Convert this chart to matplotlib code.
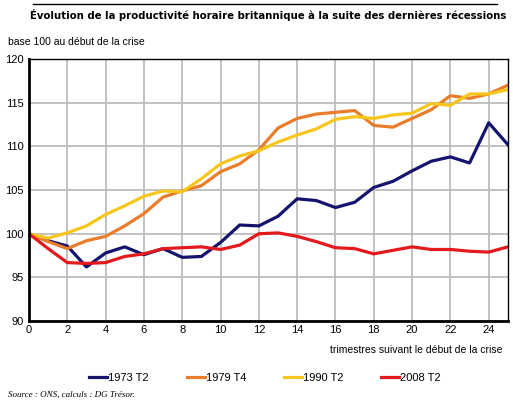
import matplotlib

matplotlib.use("Agg")

import matplotlib.pyplot as plt
from matplotlib.font_manager import findfont, FontProperties

trimestres = list(range(26))

serie_1973 = [100.0, 99.2, 98.6, 96.2, 97.8, 98.5, 97.6, 98.3, 97.3, 97.4, 99.0, 101.0, 100.9,
              102.0, 104.0, 103.8, 103.0, 103.6, 105.3, 106.0, 107.2, 108.3, 108.8, 108.1, 112.7, 110.2]
serie_1979 = [100.0, 99.1, 98.3, 99.2, 99.7, 100.9, 102.3, 104.2, 104.9, 105.5, 107.1, 108.0, 109.6,
              112.1, 113.2, 113.7, 113.9, 114.1, 112.4, 112.2, 113.2, 114.2, 115.8, 115.5, 116.0, 117.0]
serie_1990 = [100.0, 99.5, 100.1, 100.9, 102.2, 103.2, 104.3, 104.9, 104.8, 106.3, 108.0, 108.9, 109.5,
              110.5, 111.3, 112.0, 113.1, 113.4, 113.2, 113.6, 113.8, 114.9, 114.7, 116.0, 116.0, 116.5]
serie_2008 = [100.0, 98.3, 96.7, 96.6, 96.7, 97.4, 97.7, 98.3, 98.4, 98.5, 98.2, 98.7, 100.0,
              100.1, 99.7, 99.1, 98.4, 98.3, 97.7, 98.1, 98.5, 98.2, 98.2, 98.0, 97.9, 98.5]

labels = ["1973 T2", "1979 T4", "1990 T2", "2008 T2"]
colors = ["#14146e", "#e97d2b", "#f6c61c", "#e3191c"]

x_ticks = list(range(0, 26, 2))
y_ticks = [90, 95, 100, 105, 110, 115, 120]

# condensed bold for the title when the font is there
title_props = FontProperties(family="DejaVu Sans", stretch="condensed", weight="bold", size=8.1)
if "Condensed" not in findfont(title_props):
    title_props = FontProperties(family="Liberation Sans", weight="bold", size=8.6)

plt.rcParams["font.family"] = ["Liberation Sans", "DejaVu Sans"]

fig = plt.figure(figsize=(5.13, 4.07), dpi=100)
ax = fig.add_axes([0.0565, 0.211, 0.9335, 0.644])

for serie, label, color in zip([serie_1973, serie_1979, serie_1990, serie_2008], labels, colors):
    ax.plot(trimestres, serie, color=color, linewidth=2.3, label=label)

ax.set_xlim(0, 25)
ax.set_ylim(90, 120)
ax.set_xticks(x_ticks)
ax.set_yticks(y_ticks)
ax.grid(color="#bdbdbd", linewidth=1.3)
ax.set_axisbelow(True)
ax.tick_params(length=0, labelsize=8, pad=3)
ax.tick_params(axis="y", pad=4)

for side in ["top", "right"]:
    ax.spines[side].set_linewidth(1.0)
for side in ["left", "bottom"]:
    ax.spines[side].set_linewidth(2.0)

fig.lines.append(plt.Line2D([33 / 513, 497 / 513], [1 - 4 / 407, 1 - 4 / 407],
                            transform=fig.transFigure, color="black", linewidth=1.0))
fig.text(268 / 513, 1 - 15 / 407, "Évolution de la productivité horaire britannique à la suite des dernières récessions",
         ha="center", va="center", fontproperties=title_props)
fig.text(8 / 513, 1 - 42 / 407, "base 100 au début de la crise", ha="left", va="center", fontsize=7.5)
fig.text(503 / 513, 1 - 350 / 407, "trimestres suivant le début de la crise", ha="right", va="center", fontsize=7.5)
fig.text(8 / 513, 1 - 395 / 407, "Source : ONS, calculs : DG Trésor.", ha="left", va="center",
         fontsize=6.5, style="italic", family=["Liberation Serif", "DejaVu Serif"])

fig.legend(loc="center", bbox_to_anchor=(265 / 513, 1 - 378 / 407), ncol=4, frameon=False,
           fontsize=8, handlelength=1.6, handletextpad=0.1, columnspacing=3.4)

fig.savefig("out.png", dpi=100)
